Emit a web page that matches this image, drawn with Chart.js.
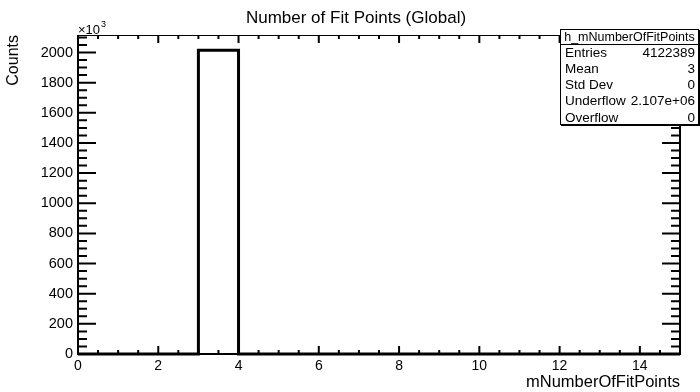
<!DOCTYPE html>
<html>
<head>
<meta charset="utf-8">
<script src="https://cdn.jsdelivr.net/npm/chart.js@4.4.1/dist/chart.umd.min.js"></script>
<style>
  html, body { margin: 0; padding: 0; background: #fff; }
  #wrap { width: 700px; height: 392px; }
</style>
</head>
<body>
<div id="wrap"><canvas id="histo" width="700" height="392"></canvas></div>
<script>
// histogram h_mNumberOfFitPoints, counts in units of 10^3
const binLow = [0, 1, 2, 3, 4, 5, 6, 7, 8, 9, 10, 11, 12, 13, 14];
const binHigh = 15;
const counts = [0, 0, 0, 2015.389, 0, 0, 0, 0, 0, 0, 0, 0, 0, 0, 0];
const xTicks = [0, 2, 4, 6, 8, 10, 12, 14];
const yTicks = [0, 200, 400, 600, 800, 1000, 1200, 1400, 1600, 1800, 2000];
const statNames = ["Entries", "Mean", "Std Dev", "Underflow", "Overflow"];
const statValues = ["4122389", "3", "0", "2.107e+06", "0"];

const FONT = "'Liberation Sans', Arial, Helvetica, sans-serif";

// step outline: left edge of each bin, then the last right edge
const outline = binLow.map((x, i) => ({ x: x, y: counts[i] }));
outline.push({ x: binHigh, y: counts[counts.length - 1] });

const yMax = Math.max(...counts) * 1.05;

// ROOT look: ticks inside on all four sides, title, stats box
const rootFrame = {
  id: "rootFrame",
  afterDatasetsDraw(chart) {
    const { ctx, chartArea: a, scales } = chart;
    const xs = scales.x, ys = scales.y;
    ctx.save();
    ctx.strokeStyle = "#000";

    // frame
    ctx.lineWidth = 1;
    ctx.beginPath();
    ctx.moveTo(a.left, a.top + 0.5);
    ctx.lineTo(a.right, a.top + 0.5);
    ctx.stroke();
    ctx.lineWidth = 2;
    ctx.beginPath();
    ctx.moveTo(a.left, a.top);
    ctx.lineTo(a.left, a.bottom);
    ctx.lineTo(a.right, a.bottom);
    ctx.lineTo(a.right, a.top);
    ctx.stroke();

    // x ticks
    for (let v = xs.min; v <= xs.max + 1e-9; v += 0.5) {
      const px = xs.getPixelForValue(v);
      const len = xTicks.includes(v) ? 8 : 4;
      ctx.beginPath();
      ctx.moveTo(px, a.bottom);
      ctx.lineTo(px, a.bottom - len);
      ctx.moveTo(px, a.top);
      ctx.lineTo(px, a.top + len);
      ctx.stroke();
    }
    // y ticks
    for (let v = 0; v <= ys.max + 1e-9; v += 50) {
      const py = ys.getPixelForValue(v);
      const len = v % 200 === 0 ? 18 : 9;
      ctx.beginPath();
      ctx.moveTo(a.left, py);
      ctx.lineTo(a.left + len, py);
      ctx.moveTo(a.right, py);
      ctx.lineTo(a.right - len, py);
      ctx.stroke();
    }

    // title
    ctx.fillStyle = "#000";
    ctx.textAlign = "center";
    ctx.textBaseline = "middle";
    ctx.font = "17px " + FONT;
    ctx.fillText("Number of Fit Points (Global)", 356, 18);

    // exponent label
    ctx.textAlign = "left";
    ctx.textBaseline = "alphabetic";
    ctx.font = "13px " + FONT;
    ctx.fillText("\u00d710", a.left, a.top - 1);
    const w = ctx.measureText("\u00d710").width;
    ctx.font = "9px " + FONT;
    ctx.fillText("3", a.left + w + 1, a.top - 8);

    // stats box
    const bx = 560, by = 29, bw = 139, bh = 96, hh = 15;
    ctx.fillStyle = "#000";
    ctx.fillRect(bx + 1, by + 1, bw, bh);
    ctx.fillStyle = "#fff";
    ctx.fillRect(bx, by, bw, bh);
    ctx.lineWidth = 1;
    ctx.strokeRect(bx + 0.5, by + 0.5, bw - 1, bh - 1);
    ctx.beginPath();
    ctx.moveTo(bx, by + hh + 0.5);
    ctx.lineTo(bx + bw, by + hh + 0.5);
    ctx.stroke();
    ctx.fillStyle = "#000";
    ctx.font = "12.5px " + FONT;
    ctx.textAlign = "center";
    ctx.textBaseline = "middle";
    ctx.fillText("h_mNumberOfFitPoints", bx + bw / 2, by + hh / 2 + 1);
    ctx.font = "13.5px " + FONT;
    const rowH = (bh - hh) / statNames.length;
    statNames.forEach((name, i) => {
      const ty = by + hh + rowH * (i + 0.5) + 1;
      ctx.textAlign = "left";
      ctx.fillText(name, bx + 5, ty);
      ctx.textAlign = "right";
      ctx.fillText(statValues[i], bx + bw - 4, ty);
    });
    ctx.restore();
  }
};

new Chart(document.getElementById("histo"), {
  type: "line",
  data: {
    datasets: [{
      data: outline,
      stepped: "before",
      borderColor: "#000",
      borderWidth: 3,
      pointRadius: 0,
      fill: false,
      clip: 4
    }]
  },
  options: {
    responsive: false,
    animation: false,
    events: [],
    layout: { padding: { top: 35, right: 20, left: 0, bottom: 0 } },
    plugins: { legend: { display: false }, tooltip: { enabled: false }, title: { display: false } },
    scales: {
      x: {
        type: "linear",
        min: 0,
        max: binHigh,
        grid: { display: false, drawTicks: false },
        border: { display: false },
        afterFit: (s) => { s.height = 38; },
        afterBuildTicks: (s) => { s.ticks = xTicks.map(v => ({ value: v })); },
        ticks: {
          padding: 4,
          maxRotation: 0,
          color: "#000",
          font: { family: FONT, size: 14 },
          callback: (v) => String(v)
        },
        title: {
          display: true,
          text: "mNumberOfFitPoints",
          align: "end",
          color: "#000",
          font: { family: FONT, size: 16.5, lineHeight: 1.2 },
          padding: { top: 0, bottom: 0 }
        }
      },
      y: {
        type: "linear",
        min: 0,
        max: yMax,
        grid: { display: false, drawTicks: false },
        border: { display: false },
        afterFit: (s) => { s.width = 78; },
        afterBuildTicks: (s) => { s.ticks = yTicks.map(v => ({ value: v })); },
        ticks: {
          padding: 5,
          color: "#000",
          font: { family: FONT, size: 14.5 },
          callback: (v) => String(v)
        },
        title: {
          display: true,
          text: "Counts",
          align: "end",
          color: "#000",
          font: { family: FONT, size: 16, lineHeight: 1.2 },
          padding: { top: 4, bottom: 0 }
        }
      }
    }
  },
  plugins: [rootFrame]
});
</script>
</body>
</html>
